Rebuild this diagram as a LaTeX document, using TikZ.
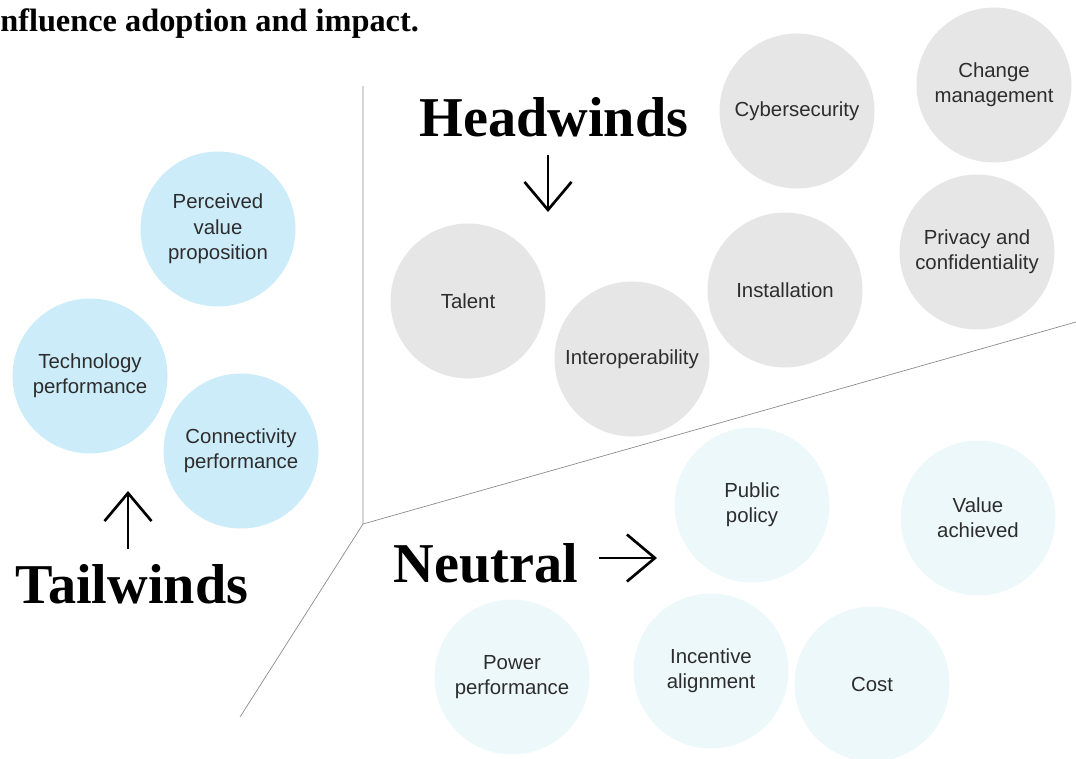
\documentclass[tikz,border=0pt]{standalone}
\usepackage{fontspec}
\setmainfont{Liberation Sans}
\newfontfamily\headfont{Liberation Serif}
\usetikzlibrary{arrows.meta}
\definecolor{tailblue}{RGB}{204,236,250}
\definecolor{headgray}{RGB}{230,230,231}
\definecolor{neutralblue}{RGB}{237,248,251}
\definecolor{labelgray}{RGB}{45,45,45}
\definecolor{linegray}{RGB}{140,140,140}
\tikzset{
	factor/.style={shape=circle, minimum size=38.75mm, inner sep=0pt, align=center,%
				text=labelgray, font=\fontsize{14.5}{18}\selectfont},
	tail/.style={factor, fill=tailblue},
	head/.style={factor, fill=headgray},
	neutral/.style={factor, fill=neutralblue},
	heading/.style={anchor=base, font=\headfont\bfseries\fontsize{40}{44}\selectfont},
	windarrow/.style={line width=1.9pt, -{Straight Barb[length=7mm, width=11.75mm, line width=1.9pt]}},
	divider/.style={draw=linegray, line width=0.5pt}
}

\begin{document}
\begin{tikzpicture}[x=0.25mm, y=-0.25mm]
	\useasboundingbox (0,0) rectangle (1076,759);
	\node [anchor=base west, inner sep=0pt, font=\headfont\bfseries\fontsize{23}{26}\selectfont]%
				(title) at (0,32) {nfluence adoption and impact.};
	% dividing lines
	\coordinate (hub) at (363,524);
	\coordinate (top) at (363,86);
	\coordinate (low) at (240,717);
	\coordinate (right) at (1076,322);
	\draw [divider] (top) -- (hub) -- (low);
	\draw [divider] (hub) -- (right);
	% tailwinds
	\node [tail] (perceived) at (218,229) {Perceived\\value\\proposition};
	\node [tail] (technology) at (90,376) {Technology\\performance};
	\node [tail] (connectivity) at (241,451) {Connectivity\\performance};
	\node [heading] (tailwinds) at (132,603) {Tailwinds};
	\coordinate (tailfrom) at (128,549);
	\coordinate (tailto) at (128,491);
	\draw [windarrow] (tailfrom) -- (tailto);
	% headwinds
	\node [heading] (headwinds) at (554,137) {Headwinds};
	\coordinate (headfrom) at (548,155);
	\coordinate (headto) at (548,212);
	\draw [windarrow] (headfrom) -- (headto);
	\node [head] (talent) at (468,301) {Talent};
	\node [head] (interop) at (632,359) {Interoperability};
	\node [head] (install) at (785,290) {Installation};
	\node [head] (cyber) at (797,111) {Cybersecurity};
	\node [head] (change) at (994,85) {Change\\management};
	\node [head] (privacy) at (977,252) {Privacy and\\confidentiality};
	% neutral
	\node [heading] (neutral) at (486,582) {Neutral};
	\coordinate (neutralfrom) at (599,558);
	\coordinate (neutralto) at (657,558);
	\draw [windarrow] (neutralfrom) -- (neutralto);
	\node [neutral] (policy) at (752,505) {Public\\policy};
	\node [neutral] (value) at (978,518) {Value\\achieved};
	\node [neutral] (power) at (512,677) {Power\\performance};
	\node [neutral] (incentive) at (711,671) {Incentive\\alignment};
	\node [neutral] (cost) at (872,684) {Cost};
\end{tikzpicture}
\end{document}
